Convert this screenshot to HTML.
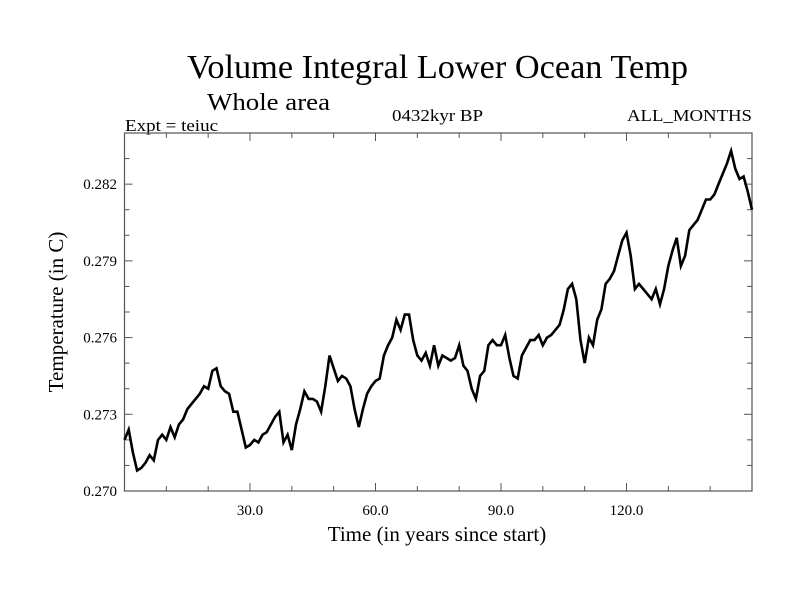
<!DOCTYPE html>
<html><head><meta charset="utf-8"><style>
body{margin:0;background:#fff}
svg{display:block;font-family:"Liberation Serif",serif}
</style></head><body>
<svg id="chart" width="800" height="600">
<rect width="800" height="600" fill="#fff"/>
<text x="187" y="78" font-size="34" textLength="501" lengthAdjust="spacingAndGlyphs">Volume Integral Lower Ocean Temp</text>
<text x="207" y="110" font-size="24" textLength="123" lengthAdjust="spacingAndGlyphs">Whole area</text>
<text x="125" y="131" font-size="17" textLength="93" lengthAdjust="spacingAndGlyphs">Expt = teiuc</text>
<text x="392" y="121" font-size="17" textLength="91" lengthAdjust="spacingAndGlyphs">0432kyr BP</text>
<text x="627" y="121" font-size="17" textLength="125" lengthAdjust="spacingAndGlyphs">ALL_MONTHS</text>
<text x="437" y="541" font-size="21" text-anchor="middle">Time (in years since start)</text>
<text transform="translate(63,312) rotate(-90)" font-size="21" text-anchor="middle">Temperature (in C)</text>
<g id="axes"></g>
<path id="series" fill="none" stroke="#000" stroke-width="2.6" stroke-linejoin="miter"/>
</svg>
<script>
const years = [];
for (let i = 0; i <= 150; i++) years.push(i);
const temps = [
0.2720,0.2724,0.2715,0.2708,0.2709,0.2711,0.2714,0.2712,0.2720,0.2722,
0.2720,0.2725,0.2721,0.2726,0.2728,0.2732,0.2734,0.2736,0.2738,0.2741,
0.2740,0.2747,0.2748,0.2741,0.2739,0.2738,0.2731,0.2731,0.2724,0.2717,
0.2718,0.2720,0.2719,0.2722,0.2723,0.2726,0.2729,0.2731,0.2719,0.2722,
0.2716,0.2726,0.2732,0.2739,0.2736,0.2736,0.2735,0.2731,0.2741,0.2753,
0.2748,0.2743,0.2745,0.2744,0.2741,0.2732,0.2725,0.2732,0.2738,0.2741,
0.2743,0.2744,0.2753,0.2757,0.2760,0.2767,0.2763,0.2769,0.2769,0.2759,
0.2753,0.2751,0.2754,0.2749,0.2757,0.2749,0.2753,0.2752,0.2751,0.2752,
0.2757,0.2749,0.2747,0.2740,0.2736,0.2745,0.2747,0.2757,0.2759,0.2757,
0.2757,0.2761,0.2752,0.2745,0.2744,0.2753,0.2756,0.2759,0.2759,0.2761,
0.2757,0.2760,0.2761,0.2763,0.2765,0.2771,0.2779,0.2781,0.2775,0.2759,
0.2750,0.2760,0.2757,0.2767,0.2771,0.2781,0.2783,0.2786,0.2792,0.2798,
0.2801,0.2792,0.2779,0.2781,0.2779,0.2777,0.2775,0.2779,0.2773,0.2779,
0.2788,0.2794,0.2799,0.2788,0.2792,0.2802,0.2804,0.2806,0.2810,0.2814,
0.2814,0.2816,0.2820,0.2824,0.2828,0.2833,0.2826,0.2822,0.2823,0.2817,
0.2810];
const xTickValues = [30, 60, 90, 120];
const xTickLabels = ["30.0", "60.0", "90.0", "120.0"];
const yTickValues = [0.270, 0.273, 0.276, 0.279, 0.282];
const yTickLabels = ["0.270", "0.273", "0.276", "0.279", "0.282"];

const L = 124.5, R = 752, T = 133, B = 491;
const xMin = 0, xMax = 150, yMin = 0.270, yMax = 0.284;
const sx = v => L + (v - xMin) / (xMax - xMin) * (R - L);
const sy = v => B - (v - yMin) / (yMax - yMin) * (B - T);
const NS = "http://www.w3.org/2000/svg";
const axes = document.getElementById("axes");
function mk(tag, attrs) {
  const e = document.createElementNS(NS, tag);
  for (const k in attrs) e.setAttribute(k, attrs[k]);
  axes.appendChild(e);
  return e;
}
const frame = mk("rect", {x: L, y: T, width: R - L, height: B - T, fill: "none", stroke: "#555", "stroke-width": 1.2});


for (let v = 10; v < 150; v += 10) {
  const len = (v % 30 === 0) ? 8 : 5;
  const t1 = mk("line", {x1: sx(v), x2: sx(v), y1: B, y2: B - len, stroke: "#555"});
  
  
  const t2 = mk("line", {x1: sx(v), x2: sx(v), y1: T, y2: T + len, stroke: "#555"});
  
  
}
for (let v = 0.271; v < 0.2839; v += 0.001) {
  const major = yTickValues.some(y => Math.abs(y - v) < 1e-6);
  const len = major ? 8 : 5;
  const t1 = mk("line", {x1: L, x2: L + len, y1: sy(v), y2: sy(v), stroke: "#555"});
  
  
  const t2 = mk("line", {x1: R, x2: R - len, y1: sy(v), y2: sy(v), stroke: "#555"});
  
  
}
xTickValues.forEach((v, i) => {
  const t = mk("text", {x: sx(v), y: 515, "font-size": 15, "text-anchor": "middle"});
  t.textContent = xTickLabels[i];
  
  
});
yTickValues.forEach((v, i) => {
  const t = mk("text", {x: 117, y: sy(v) + 5, "font-size": 15, "text-anchor": "end"});
  t.textContent = yTickLabels[i];
  
  
});
let d = "";
years.forEach((yr, i) => { d += (i ? "L" : "M") + sx(yr).toFixed(1) + "," + sy(temps[i]).toFixed(1); });
document.getElementById("series").setAttribute("d", d);
</script>
</body></html>
